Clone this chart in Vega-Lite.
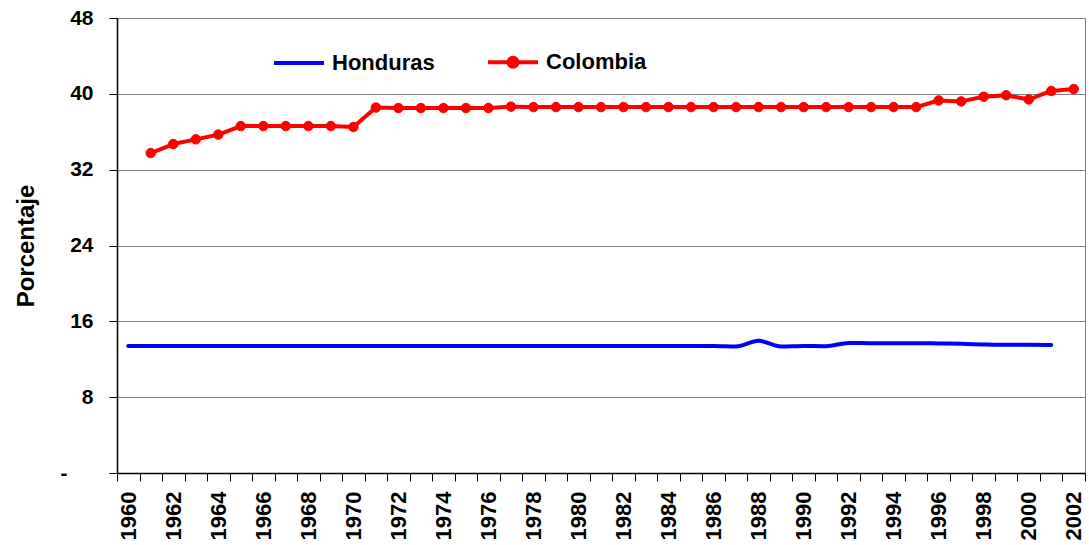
{
  "$schema": "https://vega.github.io/schema/vega-lite/v6.json",
  "width": 968,
  "height": 455,
  "autosize": {"type": "none"},
  "padding": {"left": 117, "top": 18, "right": 4, "bottom": 72},
  "background": "white",
  "config": {"view": {"stroke": "#808080", "strokeWidth": 1}, "font": "Liberation Sans"},
  "data": {"values": [
    {"year": 1960, "series": "Honduras", "value": 13.4},
    {"year": 1961, "series": "Honduras", "value": 13.4},
    {"year": 1962, "series": "Honduras", "value": 13.4},
    {"year": 1963, "series": "Honduras", "value": 13.4},
    {"year": 1964, "series": "Honduras", "value": 13.4},
    {"year": 1965, "series": "Honduras", "value": 13.4},
    {"year": 1966, "series": "Honduras", "value": 13.4},
    {"year": 1967, "series": "Honduras", "value": 13.4},
    {"year": 1968, "series": "Honduras", "value": 13.4},
    {"year": 1969, "series": "Honduras", "value": 13.4},
    {"year": 1970, "series": "Honduras", "value": 13.4},
    {"year": 1971, "series": "Honduras", "value": 13.4},
    {"year": 1972, "series": "Honduras", "value": 13.4},
    {"year": 1973, "series": "Honduras", "value": 13.4},
    {"year": 1974, "series": "Honduras", "value": 13.4},
    {"year": 1975, "series": "Honduras", "value": 13.4},
    {"year": 1976, "series": "Honduras", "value": 13.4},
    {"year": 1977, "series": "Honduras", "value": 13.4},
    {"year": 1978, "series": "Honduras", "value": 13.4},
    {"year": 1979, "series": "Honduras", "value": 13.4},
    {"year": 1980, "series": "Honduras", "value": 13.4},
    {"year": 1981, "series": "Honduras", "value": 13.4},
    {"year": 1982, "series": "Honduras", "value": 13.4},
    {"year": 1983, "series": "Honduras", "value": 13.4},
    {"year": 1984, "series": "Honduras", "value": 13.4},
    {"year": 1985, "series": "Honduras", "value": 13.4},
    {"year": 1986, "series": "Honduras", "value": 13.4},
    {"year": 1987, "series": "Honduras", "value": 13.35},
    {"year": 1988, "series": "Honduras", "value": 13.95},
    {"year": 1989, "series": "Honduras", "value": 13.35},
    {"year": 1990, "series": "Honduras", "value": 13.4},
    {"year": 1991, "series": "Honduras", "value": 13.38},
    {"year": 1992, "series": "Honduras", "value": 13.72},
    {"year": 1993, "series": "Honduras", "value": 13.7},
    {"year": 1994, "series": "Honduras", "value": 13.7},
    {"year": 1995, "series": "Honduras", "value": 13.7},
    {"year": 1996, "series": "Honduras", "value": 13.66},
    {"year": 1997, "series": "Honduras", "value": 13.63},
    {"year": 1998, "series": "Honduras", "value": 13.56},
    {"year": 1999, "series": "Honduras", "value": 13.52},
    {"year": 2000, "series": "Honduras", "value": 13.52},
    {"year": 2001, "series": "Honduras", "value": 13.5},
    {"year": 1961, "series": "Colombia", "value": 33.75},
    {"year": 1962, "series": "Colombia", "value": 34.7},
    {"year": 1963, "series": "Colombia", "value": 35.2},
    {"year": 1964, "series": "Colombia", "value": 35.7},
    {"year": 1965, "series": "Colombia", "value": 36.6},
    {"year": 1966, "series": "Colombia", "value": 36.6},
    {"year": 1967, "series": "Colombia", "value": 36.6},
    {"year": 1968, "series": "Colombia", "value": 36.6},
    {"year": 1969, "series": "Colombia", "value": 36.6},
    {"year": 1970, "series": "Colombia", "value": 36.5},
    {"year": 1971, "series": "Colombia", "value": 38.55},
    {"year": 1972, "series": "Colombia", "value": 38.5},
    {"year": 1973, "series": "Colombia", "value": 38.5},
    {"year": 1974, "series": "Colombia", "value": 38.5},
    {"year": 1975, "series": "Colombia", "value": 38.5},
    {"year": 1976, "series": "Colombia", "value": 38.5},
    {"year": 1977, "series": "Colombia", "value": 38.65},
    {"year": 1978, "series": "Colombia", "value": 38.6},
    {"year": 1979, "series": "Colombia", "value": 38.6},
    {"year": 1980, "series": "Colombia", "value": 38.6},
    {"year": 1981, "series": "Colombia", "value": 38.6},
    {"year": 1982, "series": "Colombia", "value": 38.6},
    {"year": 1983, "series": "Colombia", "value": 38.6},
    {"year": 1984, "series": "Colombia", "value": 38.6},
    {"year": 1985, "series": "Colombia", "value": 38.6},
    {"year": 1986, "series": "Colombia", "value": 38.6},
    {"year": 1987, "series": "Colombia", "value": 38.6},
    {"year": 1988, "series": "Colombia", "value": 38.6},
    {"year": 1989, "series": "Colombia", "value": 38.6},
    {"year": 1990, "series": "Colombia", "value": 38.6},
    {"year": 1991, "series": "Colombia", "value": 38.6},
    {"year": 1992, "series": "Colombia", "value": 38.6},
    {"year": 1993, "series": "Colombia", "value": 38.6},
    {"year": 1994, "series": "Colombia", "value": 38.6},
    {"year": 1995, "series": "Colombia", "value": 38.6},
    {"year": 1996, "series": "Colombia", "value": 39.3},
    {"year": 1997, "series": "Colombia", "value": 39.2},
    {"year": 1998, "series": "Colombia", "value": 39.7},
    {"year": 1999, "series": "Colombia", "value": 39.85},
    {"year": 2000, "series": "Colombia", "value": 39.4},
    {"year": 2001, "series": "Colombia", "value": 40.3},
    {"year": 2002, "series": "Colombia", "value": 40.5}
  ]},
  "encoding": {
    "x": {
      "field": "year", "type": "quantitative",
      "scale": {"domain": [1959.5, 2002.5], "nice": false, "zero": false},
      "axis": {
        "values": [1959.5, 1960.5, 1961.5, 1962.5, 1963.5, 1964.5, 1965.5, 1966.5, 1967.5, 1968.5, 1969.5, 1970.5, 1971.5, 1972.5, 1973.5, 1974.5, 1975.5, 1976.5, 1977.5, 1978.5, 1979.5, 1980.5, 1981.5, 1982.5, 1983.5, 1984.5, 1985.5, 1986.5, 1987.5, 1988.5, 1989.5, 1990.5, 1991.5, 1992.5, 1993.5, 1994.5, 1995.5, 1996.5, 1997.5, 1998.5, 1999.5, 2000.5, 2001.5, 2002.5],
        "title": null,
        "labelExpr": "((datum.value + 0.5) % 2 === 0 && datum.value < 2002) ? '' + (datum.value + 0.5) : ''",
        "labelOffset": 11.26,
        "labelAngle": -90,
        "labelFont": "Liberation Sans",
        "labelFontSize": 22,
        "labelFontWeight": "bold",
        "labelColor": "black",
        "labelOverlap": false,
        "labelFlush": false,
        "labelBound": false,
        "labelPadding": 10,
        "tickSize": 8,
        "tickColor": "black",
        "domainColor": "black",
        "domainWidth": 1.5,
        "grid": false
      }
    },
    "y": {
      "field": "value", "type": "quantitative",
      "scale": {"domain": [0, 48], "nice": false},
      "axis": {
        "values": [0, 8, 16, 24, 32, 40, 48],
        "title": "Porcentaje",
        "titleFont": "Liberation Sans",
        "titleFontSize": 24,
        "titleFontWeight": "bold",
        "titleColor": "black",
        "titlePadding": 22,
        "labelFont": "Liberation Sans",
        "labelFontSize": 21,
        "labelFontWeight": "bold",
        "labelColor": "black",
        "labelExpr": "datum.value === 0 ? '-' : datum.label",
        "labelPadding": {"condition": {"test": "datum.value === 0", "value": 42}, "value": 16},
        "tickSize": 8,
        "tickColor": "black",
        "domainColor": "black",
        "domainWidth": 1.5,
        "grid": true,
        "gridColor": "#808080",
        "gridWidth": 1
      }
    }
  },
  "layer": [
    {
      "transform": [{"filter": "datum.series === 'Honduras'"}],
      "mark": {"type": "line", "interpolate": "monotone", "strokeWidth": 4, "strokeCap": "round", "strokeJoin": "round"},
      "encoding": {
        "color": {
          "field": "series", "type": "nominal",
          "scale": {"domain": ["Honduras", "Colombia"], "range": ["#0000FF", "#FF0000"]},
          "legend": {
            "orient": "none", "legendX": 155, "legendY": 17,
            "direction": "horizontal", "title": null,
            "symbolType": "stroke", "symbolSize": 2500, "symbolStrokeWidth": 4,
            "labelFont": "Liberation Sans", "labelFontSize": 22, "labelFontWeight": "bold", "labelColor": "black",
            "labelOffset": 6, "columnPadding": 45, "padding": 0, "labelLimit": 300,
            "encode": {"symbols": {"update": {
              "shape": [{"test": "datum.value === 'Colombia'", "value": "M-1,0L1,0M-0.18,0A0.18,0.18,0,1,1,0.18,0A0.18,0.18,0,1,1,-0.18,0Z"}, {"value": "stroke"}],
              "fill": [{"test": "datum.value === 'Colombia'", "value": "#FF0000"}, {"value": "transparent"}]
            }}}
          }
        }
      }
    },
    {
      "transform": [{"filter": "datum.series === 'Colombia'"}],
      "mark": {"type": "line", "strokeWidth": 4, "strokeCap": "round", "strokeJoin": "round"},
      "encoding": {"color": {"field": "series", "type": "nominal", "legend": null}}
    },
    {
      "transform": [{"filter": "datum.series === 'Colombia'"}],
      "mark": {"type": "point", "filled": true, "size": 90, "opacity": 1, "stroke": "#FF0000", "strokeWidth": 1},
      "encoding": {"color": {"field": "series", "type": "nominal", "legend": null}}
    }
  ]
}
